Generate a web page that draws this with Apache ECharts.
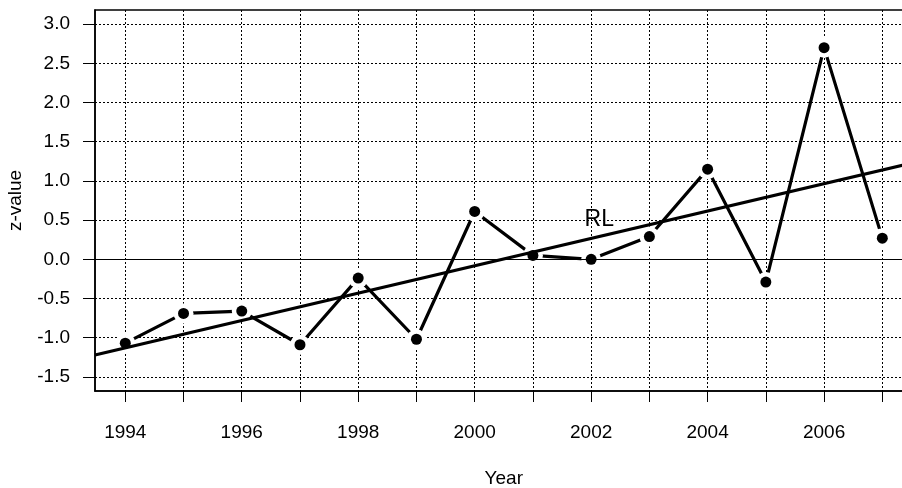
<!DOCTYPE html>
<html><head><meta charset="utf-8">
<script src="https://cdn.jsdelivr.net/npm/echarts@6/dist/echarts.min.js"></script>
<style>html,body{margin:0;padding:0;background:#fff}#c{width:902px;height:488px}</style>
</head><body><div id="c"></div>
<script>
const years = [1994,1995,1996,1997,1998,1999,2000,2001,2002,2003,2004,2005,2006,2007];
const zValues = [-1.07,-0.69,-0.66,-1.09,-0.24,-1.02,0.61,0.05,0.00,0.29,1.15,-0.29,2.70,0.27];
const regX = [1993.48, 2007.52];
const regY = [-1.22, 1.23];
const xTickValues = [1994,1995,1996,1997,1998,1999,2000,2001,2002,2003,2004,2005,2006,2007];
const xLabelValues = [1994,1996,1998,2000,2002,2004,2006];
const yTickValues = [-1.5,-1.0,-0.5,0.0,0.5,1.0,1.5,2.0,2.5,3.0];
const rlLabel = {x: 2002.14, y: 0.5, text: 'RL'};

const FONT = 'Liberation Sans, Arial, sans-serif';
const pts = years.map((y,i)=>[y, zValues[i]]);
const chart = echarts.init(document.getElementById('c'), null, {renderer:'canvas'});
chart.setOption({
  animation:false,
  backgroundColor:'#fff',
  grid:{left:95, top:10, width:817.6, height:381, show:true, borderColor:'#000', borderWidth:1.5, backgroundColor:'transparent', containLabel:false, outerBoundsMode:'none'},
  xAxis:{
    type:'value', min:1993.48, max:2007.52,
    name:'Year', nameLocation:'middle', nameGap:78,
    nameTextStyle:{color:'#000', fontSize:19, fontFamily:FONT},
    axisLine:{show:true, onZero:false, lineStyle:{color:'#000', width:1.5}},
    axisTick:{show:true, inside:false, length:11, customValues:xTickValues, lineStyle:{color:'#000', width:1}},
    axisLabel:{customValues:xLabelValues, margin:32, color:'#000', fontSize:19, fontFamily:FONT, formatter:v=>String(Math.round(v))},
    splitLine:{show:true, lineStyle:{color:'#000', width:1, type:[2,2]}}
  },
  yAxis:{
    type:'value', min:-1.68, max:3.18,
    name:'z-value', nameLocation:'middle', nameGap:70, nameRotate:90,
    nameTextStyle:{color:'#000', fontSize:19, fontFamily:FONT},
    axisLine:{show:true, onZero:false, lineStyle:{color:'#000', width:1.5}},
    axisTick:{show:true, inside:false, length:12, customValues:yTickValues, lineStyle:{color:'#000', width:1}},
    axisLabel:{customValues:yTickValues, margin:25, color:'#000', fontSize:19, fontFamily:FONT, formatter:v=>v.toFixed(1)},
    splitLine:{show:true, lineStyle:{color:'#000', width:1, type:[2,2]}}
  },
  series:[
    {
      type:'line', data:pts, z:2,
      lineStyle:{color:'#000', width:3.2},
      symbol:'none', silent:true,
      markLine:{silent:true, symbol:'none', label:{show:false},
        lineStyle:{color:'#000', width:1, type:'solid'},
        data:[{yAxis:0}]}
    },
    {
      type:'scatter', data:pts, z:3, symbol:'circle', symbolSize:20,
      itemStyle:{color:'#fff', opacity:1}, silent:true
    },
    {
      type:'line', data:regX.map((x,i)=>[x, regY[i]]), z:4,
      lineStyle:{color:'#000', width:3.2}, symbol:'none', silent:true
    },
    {
      type:'scatter', data:pts, z:5, symbol:'circle', symbolSize:11,
      itemStyle:{color:'#000', opacity:1}, silent:true
    },
    {
      type:'scatter', data:[[rlLabel.x, rlLabel.y]], z:6, symbolSize:0, silent:true,
      itemStyle:{opacity:1},
      label:{show:true, position:'inside', formatter:rlLabel.text, color:'#000', fontSize:23, fontFamily:FONT}
    }
  ]
});
</script></body></html>
